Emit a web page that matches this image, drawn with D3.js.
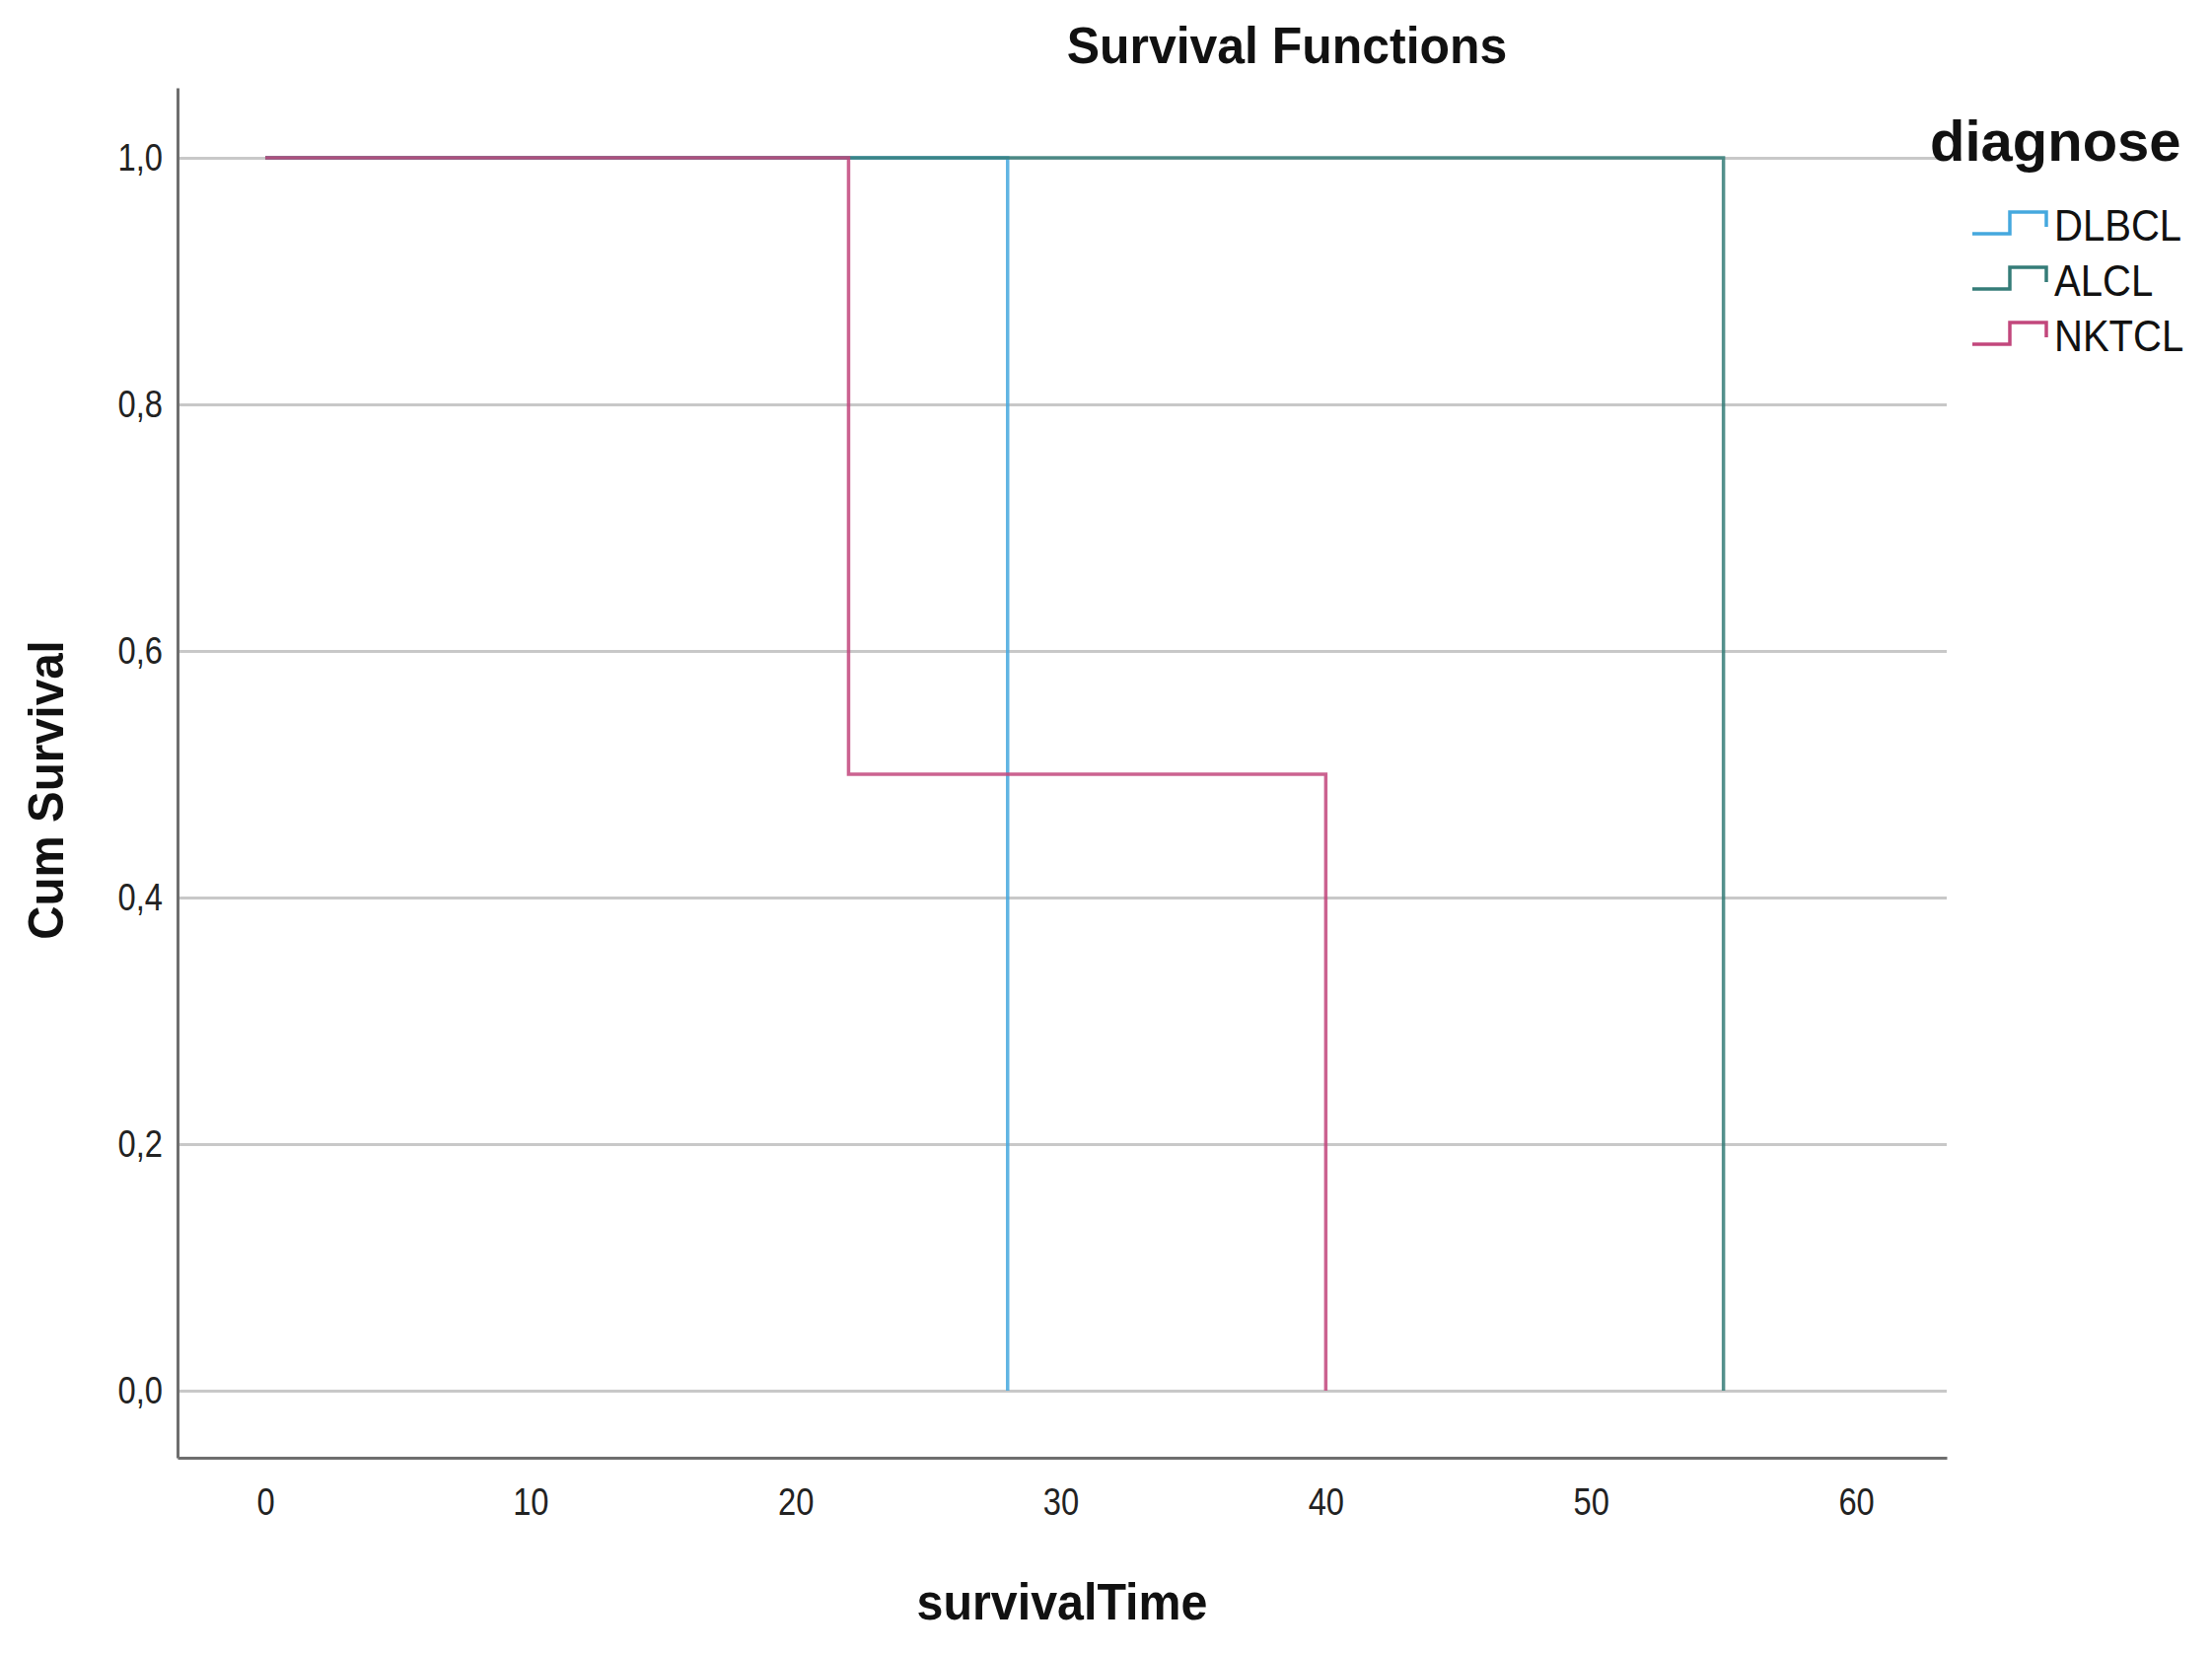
<!DOCTYPE html>
<html>
<head>
  <meta charset="utf-8">
  <title>Survival Functions</title>
  <script src="https://d3js.org/d3.v7.min.js"></script>
  <style>
    body { margin: 0; background: #fff; }
    svg text { font-family: "Liberation Sans", Arial, sans-serif; fill: #111; }
    .grid line { stroke: #c8c8c8; stroke-width: 3; }
    .grid path { display: none; }
    .axis path { stroke: #6e6e6e; stroke-width: 3; }
    .axis line { display: none; }
    .axis text { font-size: 38px; fill: #222; }
  </style>
</head>
<body>
<div id="vis"></div>
<script>
  // valores
  var xTicks = [0, 10, 20, 30, 40, 50, 60];
  var yTicks = [0, 0.2, 0.4, 0.6, 0.8, 1.0];
  var grupos = ["DLBCL", "ALCL", "NKTCL"];
  var cores = ["#45a8de", "#357c78", "#c2477c"];
  // tempo de cada evento e sobrevida apos o evento
  var dlbclTempo = [0, 28], dlbclSobrev = [1.0, 0.0];
  var alclTempo = [0, 55], alclSobrev = [1.0, 0.0];
  var nktclTempo = [0, 22, 40], nktclSobrev = [1.0, 0.5, 0.0];

  var largura = 2243, altura = 1677;
  var esq = 180, dir = 1974, topo = 89, base = 1478;

  var svg = d3.select("#vis").append("svg")
    .attr("width", largura)
    .attr("height", altura);

  svg.append("rect").attr("width", largura).attr("height", altura).attr("fill", "#fff");

  var x = d3.scaleLinear().domain([-3.31, 63.42]).range([esq, dir]);
  var y = d3.scaleLinear().domain([-0.0544, 1.0568]).range([base, topo]);

  // aperta o texto na horizontal (fonte do SPSS parece mais estreita)
  function estreita(sel, fator) {
    sel.each(function () {
      var w = this.getComputedTextLength();
      d3.select(this).attr("textLength", w * fator).attr("lengthAdjust", "spacingAndGlyphs");
    });
  }

  // linhas de grade
  svg.append("g")
    .attr("class", "grid")
    .attr("transform", "translate(" + esq + ",0)")
    .call(d3.axisLeft(y).tickValues(yTicks).tickSize(-(dir - esq)).tickFormat(""));

  var virgula = d => d3.format(".1f")(d).replace(".", ",");

  var eixoY = svg.append("g")
    .attr("class", "axis")
    .attr("transform", "translate(" + esq + ",0)")
    .call(d3.axisLeft(y).tickValues(yTicks).tickSize(0).tickPadding(15).tickFormat(virgula).tickSizeOuter(0));

  var eixoX = svg.append("g")
    .attr("class", "axis")
    .attr("transform", "translate(0," + base + ")")
    .call(d3.axisBottom(x).tickValues(xTicks).tickSize(0).tickPadding(31).tickSizeOuter(0));

  estreita(eixoY.selectAll("text"), 0.86);
  estreita(eixoX.selectAll("text"), 0.86);

  var series = [
    dlbclTempo.map((t, i) => [t, dlbclSobrev[i]]),
    alclTempo.map((t, i) => [t, alclSobrev[i]]),
    nktclTempo.map((t, i) => [t, nktclSobrev[i]])
  ];

  var linha = d3.line()
    .x(d => x(d[0]))
    .y(d => y(d[1]))
    .curve(d3.curveStepAfter);

  svg.selectAll(".curva")
    .data(series)
    .enter()
    .append("path")
    .attr("class", "curva")
    .attr("d", linha)
    .attr("fill", "none")
    .attr("stroke", (d, i) => cores[i])
    .attr("stroke-width", 3.5)
    .attr("stroke-opacity", 0.85);

  // titulos
  svg.append("text")
    .attr("x", 1305).attr("y", 64)
    .attr("text-anchor", "middle")
    .style("font-size", "52px").style("font-weight", "bold")
    .text("Survival Functions")
    .call(estreita, 0.96);

  svg.append("text")
    .attr("x", 1077).attr("y", 1642)
    .attr("text-anchor", "middle")
    .style("font-size", "52px").style("font-weight", "bold")
    .text("survivalTime")
    .call(estreita, 0.93);

  svg.append("text")
    .attr("transform", "translate(64,801) rotate(-90)")
    .attr("text-anchor", "middle")
    .style("font-size", "50px").style("font-weight", "bold")
    .text("Cum Survival")
    .call(estreita, 0.95);

  // legenda
  svg.append("text")
    .attr("x", 1957).attr("y", 163)
    .style("font-size", "58px").style("font-weight", "bold")
    .text("diagnose")
    .call(estreita, 1.0);

  var leg = svg.selectAll(".leg")
    .data(grupos)
    .enter()
    .append("g")
    .attr("class", "leg")
    .attr("transform", (d, i) => "translate(0," + (228 + i * 56) + ")");

  leg.append("path")
    .attr("d", "M2000,9H2038V-13H2075V2")
    .attr("fill", "none")
    .attr("stroke", (d, i) => cores[i])
    .attr("stroke-width", 3.5);

  leg.append("text")
    .attr("x", 2083).attr("y", 16)
    .style("font-size", "44px")
    .text(d => d)
    .call(estreita, 0.91);
</script>
</body>
</html>
